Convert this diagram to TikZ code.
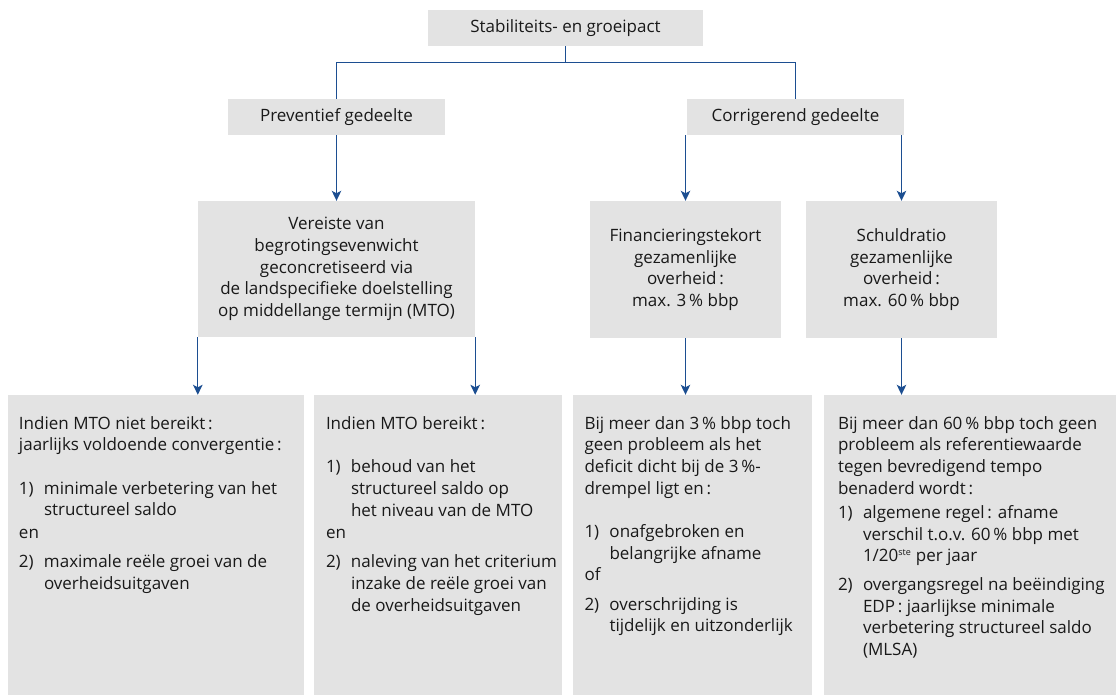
\documentclass[tikz,border=0pt]{standalone}
\usepackage{fontspec}
\setmainfont{Open Sans}
\usetikzlibrary{arrows.meta}
\definecolor{boxgray}{RGB}{227,227,227}
\definecolor{lineblue}{RGB}{28,78,145}
\definecolor{txt}{RGB}{25,25,25}
\newcommand\itm[1]{\makebox[25pt][l]{#1}}
\newcommand\ind{\hspace*{25pt}}
\begin{document}
\begin{tikzpicture}[x=1pt,y=-1pt,
  gbox/.style={fill=boxgray, draw=none, inner sep=0pt, text=txt, align=center,
    font=\fontsize{17}{21.6}\selectfont},
  bbox/.style={fill=boxgray, draw=none, inner sep=0pt, minimum height=300pt},
  btext/.style={inner sep=0pt, anchor=north west, align=left, text=txt,
    font=\fontsize{17}{21.6}\selectfont},
  conn/.style={draw=lineblue, line width=1.3pt, line join=miter},
  arr/.style={conn, -{Stealth[length=10pt,width=9.5pt,inset=2.5pt]}}]
\useasboundingbox (0,0) rectangle (1116,695);
% top levels
\node[gbox, minimum width=275pt, minimum height=36pt] (top) at (565.5,28) {Stabiliteits- en groeipact};
\node[gbox, minimum width=217pt, minimum height=36pt] (prev) at (336.5,117) {Preventief gedeelte};
\node[gbox, minimum width=217pt, minimum height=36pt] (corr) at (795.5,117) {Corrigerend gedeelte};
% middle
\node[gbox, minimum width=277pt, minimum height=136pt] (ver) at (336.5,269) {Vereiste van\\begrotingsevenwicht\\geconcretiseerd via\\de landspecifieke doelstelling\\op middellange termijn (MTO)};
\node[gbox, minimum width=191pt, minimum height=137pt] (fin) at (685.5,269.5) {Financieringstekort\\gezamenlijke\\overheid\,:\\max. 3\,\% bbp};
\node[gbox, minimum width=191pt, minimum height=137pt] (sch) at (901.5,269.5) {Schuldratio\\gezamenlijke\\overheid\,:\\max. 60\,\% bbp};
% bottom boxes
\node[bbox, minimum width=296pt] (b1) at (156,545) {};
\node[bbox, minimum width=248pt] (b2) at (438,545) {};
\node[bbox, minimum width=239pt] (b3) at (692.5,545) {};
\node[bbox, minimum width=292pt] (b4) at (970,545) {};
\node[btext] (t1) at ([shift={(11,19.3)}]b1.north west) {\rule{0pt}{15pt}Indien MTO niet bereikt\,:\\
jaarlijks voldoende convergentie\,:\\[21.6pt]
\itm{1)}minimale verbetering van het\\
\ind structureel saldo\\[1pt]
en\\[7.5pt]
\itm{2)}maximale reële groei van de\\
\ind overheidsuitgaven};
\node[btext] (t2) at ([shift={(12,19.3)}]b2.north west) {\rule{0pt}{15pt}Indien MTO bereikt\,:\\[22pt]
\itm{1)}behoud van het\\
\ind structureel saldo op\\
\ind het niveau van de MTO\\[1pt]
en\\[7.5pt]
\itm{2)}naleving van het criterium\\
\ind inzake de reële groei van\\
\ind de overheidsuitgaven};
\node[btext] (t3) at ([shift={(11.5,19.3)}]b3.north west) {\rule{0pt}{15pt}Bij meer dan 3\,\% bbp toch\\
geen probleem als het\\
deficit dicht bij de 3\,\%-\\
drempel ligt en\,:\\[22pt]
\itm{1)}onafgebroken en\\
\ind belangrijke afname\\
of\\[7.5pt]
\itm{2)}overschrijding is\\
\ind tijdelijk en uitzonderlijk};
\node[btext] (t4) at ([shift={(14,19.3)}]b4.north west) {\rule{0pt}{15pt}Bij meer dan 60\,\% bbp toch geen\\
probleem als referentiewaarde\\
tegen bevredigend tempo\\
benaderd wordt\,:\\[2.7pt]
\itm{1)}algemene regel\,: afname\\
\ind verschil t.o.v. 60\,\% bbp met\\
\ind 1/20\textsuperscript{\fontsize{9}{9}\selectfont ste} per jaar\\[7.5pt]
\itm{2)}overgangsregel na beëindiging\\
\ind EDP\,: jaarlijkse minimale\\
\ind verbetering structureel saldo\\
\ind (MLSA)};
% connectors
\draw[conn] (top.south) -- ++(0,16) coordinate (j);
\draw[conn] (prev.north) |- (j) -| (corr.north);
\draw[arr] (prev.south) -- (prev.south |- ver.north);
\draw[arr] (fin.north |- corr.south) -- (fin.north);
\draw[arr] (sch.north |- corr.south) -- (sch.north);
\draw[arr] (ver.south west) -- (ver.south west |- b1.north);
\draw[arr] (ver.south east) -- (ver.south east |- b2.north);
\draw[arr] (fin.south) -- (fin.south |- b3.north);
\draw[arr] (sch.south) -- (sch.south |- b4.north);
\end{tikzpicture}
\end{document}
